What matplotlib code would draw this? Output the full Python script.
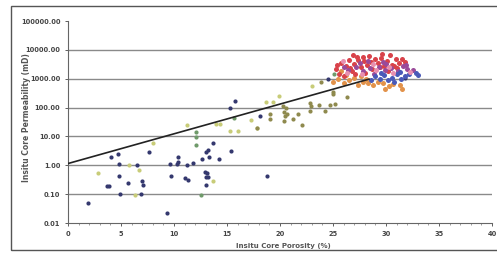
import matplotlib
matplotlib.use('Agg')
import matplotlib.pyplot as plt
from matplotlib.patches import Rectangle
import numpy as np

# porosity (%) / permeability (mD), grouped by colour
navy_x = [4.1, 4.7, 4.8, 4.8, 3.9, 3.7, 4.9, 1.9, 6.5, 5.7, 7.0, 7.1, 6.9, 7.6, 9.3,
          15.8, 15.3, 18.1, 13.7, 13.2, 13.0, 13.3, 12.6, 14.2, 15.4, 10.4, 10.4,
          9.6, 10.3, 11.2, 11.8, 9.7, 11.0, 11.3, 12.9, 13.1, 13.0, 13.2, 13.0,
          18.8, 24.5, 31.8]
navy_y = [1.9, 2.4, 1.1, 0.43, 0.19, 0.19, 0.1, 0.048, 1.0, 0.25, 0.29, 0.2, 0.1, 2.8, 0.023,
          165, 100, 52, 6.1, 3.5, 2.9, 2.0, 1.7, 1.7, 3.1, 1.9, 1.3,
          1.1, 1.1, 1.0, 1.2, 0.42, 0.37, 0.32, 0.59, 0.52, 0.38, 0.38, 0.2,
          0.42, 980, 1050]

yellow_x = [2.8, 5.8, 6.7, 8.0, 6.3, 13.7, 17.3, 14.0, 14.3, 11.2, 17.8, 15.3, 16.0,
            23.0, 18.7, 19.3, 19.9]
yellow_y = [0.54, 1.05, 0.7, 5.9, 0.09, 0.29, 38, 27, 27, 24, 19, 16, 15,
            575, 150, 160, 250]

olive_x = [19.1, 19.1, 20.3, 20.6, 20.4, 20.7, 20.5, 20.4, 21.2, 21.7, 22.1, 22.8,
           22.9, 22.8, 23.7, 24.2, 24.7, 25.2, 23.9, 25.0, 25.0, 26.3, 17.8]
olive_y = [60, 41, 117, 100, 69, 60, 53, 34, 41, 60, 25, 145,
           117, 79, 123, 79, 123, 134, 790, 340, 300, 230, 20]

green_x = [12.1, 12.1, 12.1, 12.5, 15.7, 25.1]
green_y = [14, 9.5, 4.9, 0.093, 43, 1450]

red_x = [25.3, 25.8, 26.2, 26.5, 26.8, 27.0, 27.3, 27.6, 27.9, 28.2, 28.4, 28.7, 29.0,
         29.2, 29.5, 29.8, 30.1, 30.4, 30.6, 30.9, 31.2, 31.5, 25.6, 26.0, 27.1, 28.0,
         26.9, 29.6, 31.0, 30.2, 25.4, 26.6, 27.4, 28.6, 29.4, 30.8, 31.8, 27.8]
red_y = [2200, 3500, 2800, 4500, 1900, 3200, 5500, 2500, 4000, 3000, 6000, 2200, 4800,
         3500, 5200, 2800, 4200, 6500, 3000, 4800, 3600, 5000, 1500, 1200, 1400, 1600,
         6800, 7200, 2400, 1800, 2900, 2400, 4300, 3900, 2600, 2800, 3900, 5600]

purple_x = [26.4, 27.2, 27.8, 28.5, 28.9, 29.3, 29.9, 30.5, 31.1, 31.6, 32.0, 32.5,
            27.5, 30.0, 28.3, 26.0, 29.7, 31.9]
purple_y = [2000, 2600, 1800, 2300, 1500, 2600, 2000, 2400, 1900, 2800, 2200, 2000,
            3600, 3200, 4200, 2600, 3800, 2900]

blue_x = [29.0, 29.4, 29.8, 30.2, 30.6, 31.0, 31.4, 31.8, 32.2, 32.8, 28.6, 30.8,
          29.5, 31.3, 33.0]
blue_y = [1200, 1000, 1300, 900, 1100, 1400, 1000, 1200, 1500, 1600, 900, 800,
          1600, 1700, 1300]

orange_x = [25.0, 25.5, 26.0, 26.5, 27.0, 27.4, 27.8, 28.3, 28.8, 29.2, 29.7, 30.3,
            30.7, 31.3, 26.2, 27.6, 25.8, 28.1, 31.5, 29.9]
orange_y = [800, 1000, 700, 900, 1100, 600, 800, 700, 600, 800, 700, 550,
            650, 600, 1300, 1200, 1800, 1000, 450, 450]

pink_x = [26.3, 27.7, 29.1, 30.7, 32.3, 25.9, 28.8, 30.3]
pink_y = [1600, 1400, 2000, 1600, 1700, 4000, 3300, 2600]

# trend line: perm = a * 10**(b * porosity)
trend_a = 1.15
trend_b = 0.103
trend_xmax = 28.4

y_ticks = [0.01, 0.1, 1, 10, 100, 1000, 10000, 100000]
y_labels = ['0.01', '0.10', '1.00', '10.00', '100.00', '1000.00', '10000.00', '100000.00']
x_ticks = [0, 5, 10, 15, 20, 25, 30, 35, 40]


def main():
    fig = plt.figure(figsize=(4.97, 2.56), dpi=100)
    fig.patch.set_facecolor('white')
    fig.patches.append(Rectangle((11 / 497, 6 / 256), 490 / 497, 244 / 256,
                                 transform=fig.transFigure, fill=False,
                                 edgecolor='#555555', linewidth=1.0))

    ax = fig.add_axes([68 / 497, 1 - 223 / 256, 424 / 497, 202 / 256])
    ax.set_yscale('log')
    ax.set_xlim(0, 40)
    ax.set_ylim(0.01, 100000)

    for v in y_ticks[1:-1]:
        ax.axhline(v, color='#8a8a8a', linewidth=1.0, zorder=1)

    ms = 9
    cs = 13
    ax.scatter(navy_x, navy_y, s=ms, c='#34386e', zorder=3, linewidths=0)
    ax.scatter(yellow_x, yellow_y, s=ms, c='#c8cc78', zorder=3, linewidths=0)
    ax.scatter(olive_x, olive_y, s=ms, c='#8f8a4e', zorder=3, linewidths=0)
    ax.scatter(green_x, green_y, s=ms, c='#6f9a6a', zorder=3, linewidths=0)
    ax.scatter(orange_x, orange_y, s=cs, c='#e2924a', zorder=3, linewidths=0)
    ax.scatter(red_x, red_y, s=cs, c='#d8424a', zorder=3, linewidths=0)
    ax.scatter(purple_x, purple_y, s=cs, c='#9a4a9a', zorder=3, linewidths=0)
    ax.scatter(blue_x, blue_y, s=cs, c='#4a5ab8', zorder=3, linewidths=0)
    ax.scatter(pink_x, pink_y, s=cs, c='#e890b0', zorder=3, linewidths=0)

    tx = np.linspace(0, trend_xmax, 50)
    ax.plot(tx, trend_a * 10 ** (trend_b * tx), color='#222222', linewidth=1.2, zorder=4)

    ax.set_yticks(y_ticks)
    ax.set_yticklabels(y_labels)
    ax.yaxis.set_minor_locator(matplotlib.ticker.NullLocator())
    ax.set_xticks(x_ticks)
    ax.set_xticks(np.arange(0, 41, 1), minor=True)
    ax.tick_params(axis='both', labelsize=4.8, colors='#444444', length=2, width=0.6)
    ax.tick_params(axis='x', which='minor', length=1.5, width=0.5, colors='#777777')
    for lab in ax.get_yticklabels() + ax.get_xticklabels():
        lab.set_fontweight('bold')

    for side in ['top', 'right']:
        ax.spines[side].set_visible(False)
    for side in ['left', 'bottom']:
        ax.spines[side].set_color('#666666')
        ax.spines[side].set_linewidth(0.8)

    fig.text(27 / 497, 1 - 118 / 256, 'Insitu Core Permeability (mD)', rotation=90,
             ha='center', va='center', fontsize=5.5, color='#555555', fontweight='bold')
    fig.text(283 / 497, 1 - 246 / 256, 'Insitu Core Porosity (%)', ha='center',
             va='center', fontsize=5, color='#555555', fontweight='bold')

    fig.savefig('out.png', dpi=100, facecolor='white')


if __name__ == '__main__':
    main()
